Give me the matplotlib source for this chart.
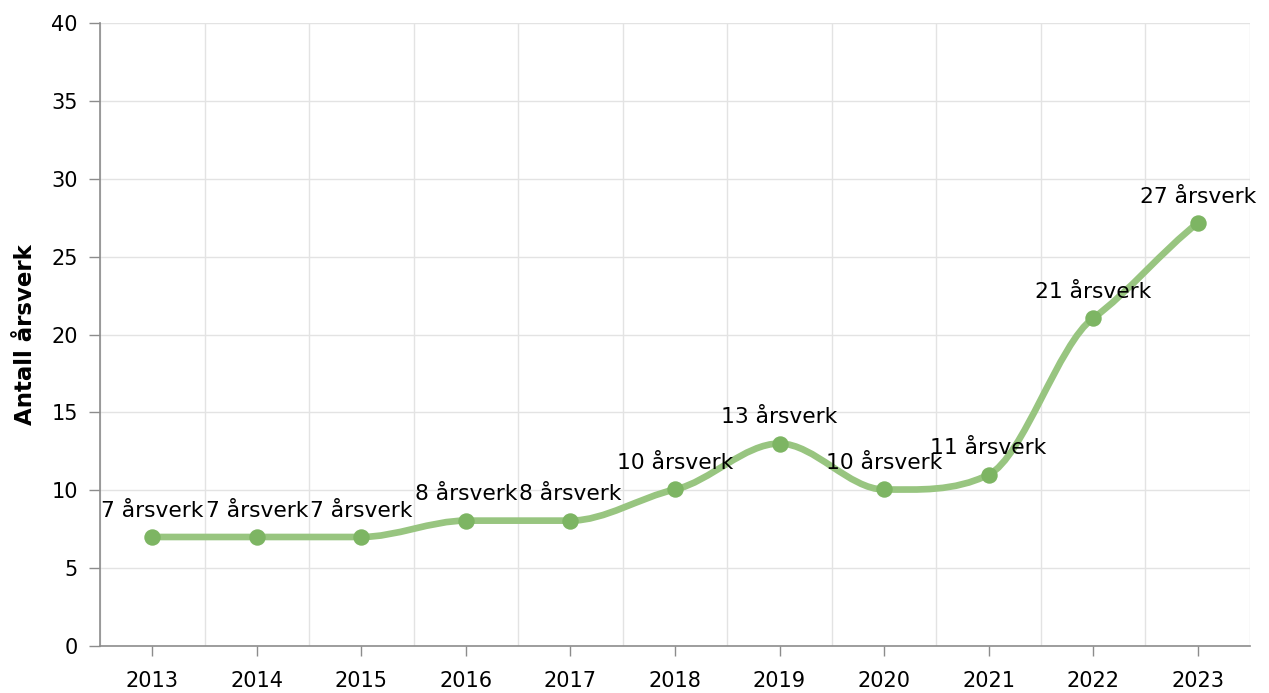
import matplotlib
matplotlib.use("Agg")
import numpy as np
import matplotlib.pyplot as plt
from matplotlib.path import Path
from matplotlib.patches import PathPatch

years = ["2013", "2014", "2015", "2016", "2017", "2018", "2019", "2020", "2021", "2022", "2023"]
values = [7, 7, 7, 8.05, 8.05, 10.05, 13, 10.05, 11, 21.05, 27.15]
labels = ["7 årsverk", "7 årsverk", "7 årsverk", "8 årsverk", "8 årsverk", "10 årsverk",
          "13 årsverk", "10 årsverk", "11 årsverk", "21 årsverk", "27 årsverk"]

plt.rcParams["font.family"] = ["DejaVu Sans"]


def smooth_path(xs, ys, k=0.6, k_end=0.85):
    # cubic bezier through every point, tangents = damped central differences,
    # flattened at extremes / plateaus so the curve does not overshoot
    n = len(xs)
    m = []
    for i in range(n):
        if i == 0:
            m.append(k_end * (ys[1] - ys[0]) / (xs[1] - xs[0]))
        elif i == n - 1:
            m.append(k_end * (ys[-1] - ys[-2]) / (xs[-1] - xs[-2]))
        else:
            s0 = ys[i] - ys[i - 1]
            s1 = ys[i + 1] - ys[i]
            if s0 * s1 <= 0:
                m.append(0.0)
            else:
                m.append(k * (ys[i + 1] - ys[i - 1]) / (xs[i + 1] - xs[i - 1]))
    verts = [(xs[0], ys[0])]
    codes = [Path.MOVETO]
    for i in range(n - 1):
        h = (xs[i + 1] - xs[i]) / 3
        verts += [(xs[i] + h, ys[i] + m[i] * h),
                  (xs[i + 1] - h, ys[i + 1] - m[i + 1] * h),
                  (xs[i + 1], ys[i + 1])]
        codes += [Path.CURVE4] * 3
    return Path(verts, codes)


fig = plt.figure(figsize=(12.69, 6.93), dpi=100)
ax = fig.add_axes([0.0788, 0.0678, 0.9062, 0.899])

x = np.arange(len(years))
line_color = "#98c580"
marker_color = "#7db563"

ax.add_patch(PathPatch(smooth_path(list(x), values), facecolor="none",
                       edgecolor=line_color, lw=4.8, capstyle="round",
                       joinstyle="round", zorder=3))
ax.scatter(x, values, s=140, color=marker_color, zorder=4, linewidths=0)

for xi, v, lab in zip(x, values, labels):
    ax.annotate(lab, (xi, v), xytext=(0, 19), textcoords="offset points",
                ha="center", va="center", fontsize=15.7, color="#000000", zorder=5)

ax.set_xlim(-0.5, len(years) - 0.5)
ax.set_ylim(0, 40)
ax.set_yticks(np.arange(0, 41, 5))
ax.set_xticks(x)
ax.set_xticklabels(years)
ax.set_xticks(np.arange(-0.5, len(years), 1), minor=True)

ax.grid(False)
ax.grid(axis="y", which="major", color="#e3e3e3", lw=1)
ax.grid(axis="x", which="minor", color="#e3e3e3", lw=1)
ax.set_axisbelow(True)

for s in ["top", "right"]:
    ax.spines[s].set_visible(False)
for s in ["left", "bottom"]:
    ax.spines[s].set_color("#8c8c8c")
    ax.spines[s].set_linewidth(1.2)

ax.tick_params(axis="x", which="major", length=7, width=1, color="#8c8c8c",
               labelsize=15, pad=11)
ax.tick_params(axis="x", which="minor", length=0)
ax.tick_params(axis="y", length=8, width=1, color="#8c8c8c", labelsize=15, pad=8)

ax.set_ylabel("Antall årsverk", fontsize=16.5, fontweight="bold", labelpad=10)

fig.savefig("out.png", dpi=100)
